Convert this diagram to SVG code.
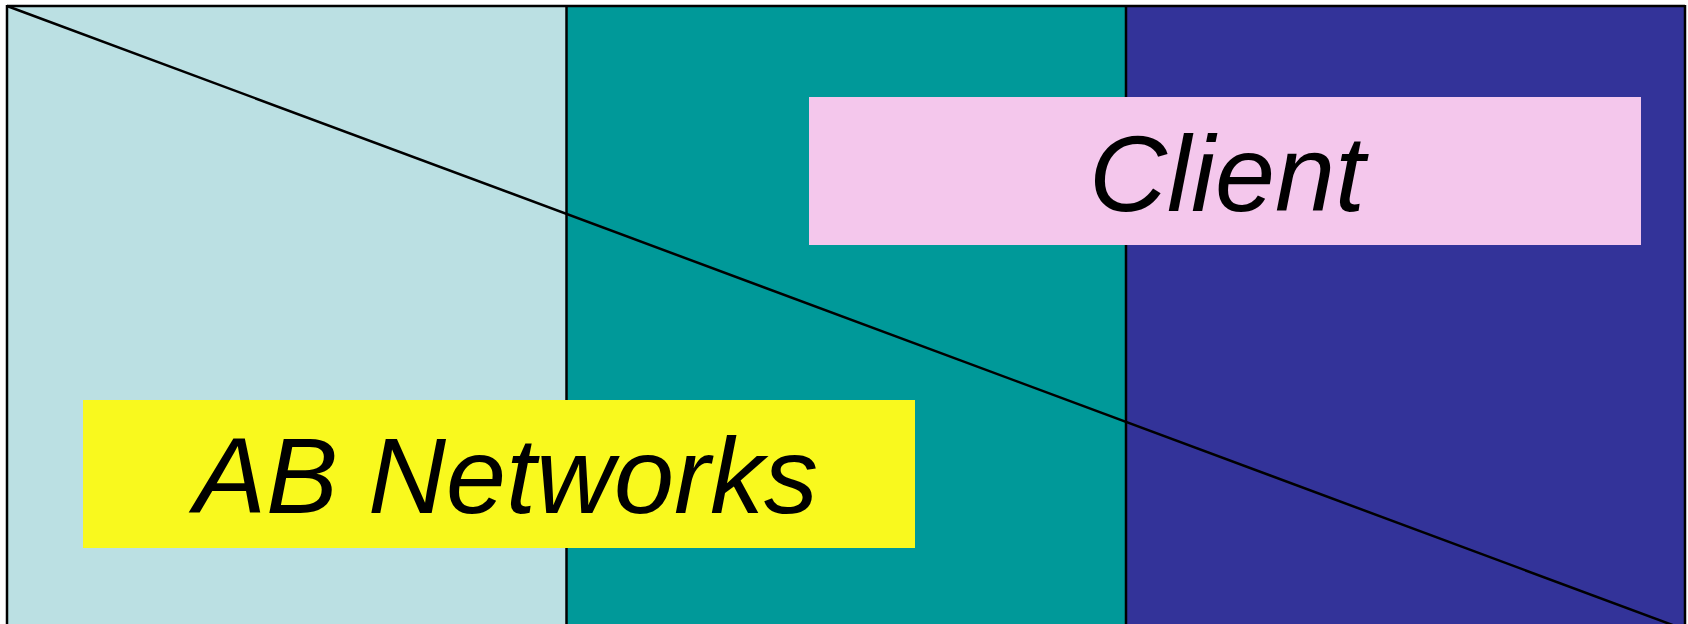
<svg xmlns="http://www.w3.org/2000/svg" width="1688" height="624" viewBox="0 0 1688 624">
<style>
.lbl{font-family:"Liberation Sans",Arial,sans-serif;font-style:italic;font-size:108px;fill:#000;text-anchor:middle}
.ln{stroke:#000;stroke-width:2.5;fill:none}
</style>
<rect width="1688" height="624" fill="#ffffff"/>
<g id="columns">
<rect x="7" y="6" width="559" height="630" fill="#BBE0E3"/>
<rect x="566" y="6" width="560" height="630" fill="#009999"/>
<rect x="1126" y="6" width="559" height="630" fill="#333399"/>
</g>
<g id="connectors">
<line class="ln" x1="7" y1="6" x2="1686" y2="630"/>
<line class="ln" x1="7" y1="6" x2="1685" y2="6"/>
<line class="ln" x1="7" y1="5" x2="7" y2="630"/>
<line class="ln" x1="566.5" y1="6" x2="566.5" y2="630"/>
<line class="ln" x1="1126" y1="6" x2="1126" y2="630"/>
<line class="ln" x1="1685" y1="5" x2="1685" y2="630"/>
</g>
<g id="client">
<rect x="809" y="97" width="832" height="148" fill="#F4C7EC"/>
<text class="lbl" x="1227" y="210.5">Client</text>
</g>
<g id="ab-networks">
<rect x="83" y="400" width="832" height="148" fill="#F9F91E"/>
<text class="lbl" x="506" y="512.5">AB Networks</text>
</g>
</svg>
